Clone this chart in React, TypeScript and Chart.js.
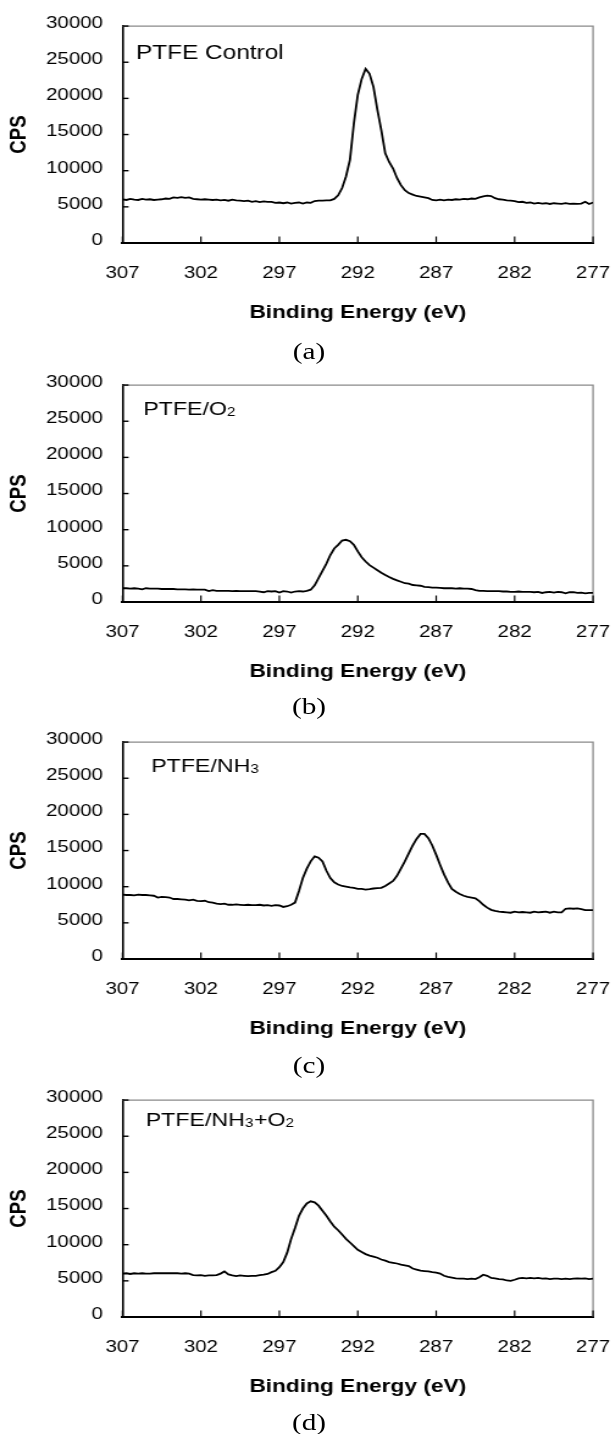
import React, { useEffect, useRef } from 'react';
import { Chart, registerables } from 'chart.js';

Chart.register(...registerables);

// ---------- DATA ----------
const energies = [
  307, 306.75, 306.5, 306.25, 306, 305.75, 305.5, 305.25,
  305, 304.75, 304.5, 304.25, 304, 303.75, 303.5, 303.25,
  303, 302.75, 302.5, 302.25, 302, 301.75, 301.5, 301.25,
  301, 300.75, 300.5, 300.25, 300, 299.75, 299.5, 299.25,
  299, 298.75, 298.5, 298.25, 298, 297.75, 297.5, 297.25,
  297, 296.75, 296.5, 296.25, 296, 295.75, 295.5, 295.25,
  295, 294.75, 294.5, 294.25, 294, 293.75, 293.5, 293.25,
  293, 292.75, 292.5, 292.25, 292, 291.75, 291.5, 291.25,
  291, 290.75, 290.5, 290.25, 290, 289.75, 289.5, 289.25,
  289, 288.75, 288.5, 288.25, 288, 287.75, 287.5, 287.25,
  287, 286.75, 286.5, 286.25, 286, 285.75, 285.5, 285.25,
  285, 284.75, 284.5, 284.25, 284, 283.75, 283.5, 283.25,
  283, 282.75, 282.5, 282.25, 282, 281.75, 281.5, 281.25,
  281, 280.75, 280.5, 280.25, 280, 279.75, 279.5, 279.25,
  279, 278.75, 278.5, 278.25, 278, 277.75, 277.5, 277.25,
  277,
];

const ptfeControl = [
  6050, 5950, 6100, 6000, 5950, 6100, 6000, 6050,
  5950, 6000, 6050, 6150, 6100, 6300, 6250, 6350,
  6250, 6300, 6100, 6050, 6000, 6050, 6000, 5950,
  6000, 5900, 5950, 5850, 6000, 5900, 5850, 5800,
  5850, 5700, 5800, 5650, 5750, 5700, 5700, 5550,
  5600, 5500, 5600, 5450, 5550, 5600, 5450, 5600,
  5550, 5800, 5850, 5850, 5900, 5900, 6100, 6600,
  7600, 9200, 11500, 16500, 20500, 22700, 24100, 23400,
  21600, 18400, 15600, 12400, 11200, 10300, 9000, 8000,
  7300, 6900, 6700, 6500, 6400, 6300, 6200, 5950,
  5900, 6000, 5900, 6000, 5950, 6050, 6000, 6100,
  6050, 6150, 6100, 6300, 6450, 6550, 6500, 6200,
  6050, 6000, 5900, 5850, 5800, 5650, 5700, 5550,
  5600, 5450, 5550, 5450, 5500, 5400, 5500, 5450,
  5400, 5500, 5400, 5450, 5400, 5450, 5700, 5400,
  5600,
];

const ptfeO2 = [
  1900, 1900, 1850, 1900, 1850, 1750, 1900, 1850,
  1850, 1850, 1800, 1800, 1800, 1800, 1750, 1750,
  1750, 1700, 1750, 1700, 1700, 1700, 1500, 1650,
  1550, 1550, 1550, 1550, 1500, 1550, 1500, 1500,
  1500, 1500, 1500, 1450, 1350, 1500, 1450, 1500,
  1300, 1500, 1450, 1300, 1450, 1500, 1450, 1550,
  1700, 2300, 3300, 4300, 5300, 6500, 7400, 7900,
  8500, 8600, 8400, 7900, 7000, 6200, 5600, 5100,
  4750, 4400, 4050, 3750, 3450, 3200, 3000, 2800,
  2600, 2550, 2350, 2300, 2250, 2100, 2050, 2000,
  2000, 1950, 1900, 1900, 1900, 1850, 1900, 1850,
  1850, 1800, 1650, 1550, 1550, 1500, 1500, 1500,
  1500, 1450, 1450, 1400, 1400, 1450, 1400, 1400,
  1400, 1350, 1400, 1250, 1350, 1400, 1300, 1400,
  1350, 1200, 1350, 1350, 1250, 1300, 1200, 1250,
  1250,
];

const ptfeNH3 = [
  8900, 8850, 8850, 8800, 8900, 8850, 8850, 8800,
  8750, 8500, 8600, 8550, 8500, 8300, 8300, 8250,
  8200, 8100, 8200, 8050, 8000, 8050, 7850, 7800,
  7650, 7600, 7650, 7500, 7500, 7550, 7500, 7450,
  7500, 7450, 7450, 7500, 7400, 7450, 7350, 7450,
  7400, 7200, 7300, 7500, 7800, 9400, 11200, 12500,
  13500, 14200, 14000, 13500, 12200, 11200, 10600, 10300,
  10100, 10000, 9900, 9850, 9700, 9700, 9600, 9650,
  9750, 9800, 9850, 10100, 10450, 10800, 11500, 12500,
  13500, 14600, 15700, 16600, 17300, 17300, 16700, 15700,
  14400, 13000, 11700, 10600, 9700, 9300, 9000, 8750,
  8600, 8500, 8400, 8000, 7500, 7100, 6800, 6650,
  6550, 6500, 6450, 6400, 6550, 6450, 6500, 6450,
  6400, 6550, 6450, 6500, 6550, 6400, 6550, 6450,
  6450, 6950, 7000, 6950, 7000, 6900, 6750, 6750,
  6750,
];

const ptfeNH3O2 = [
  6000, 6050, 5950, 6050, 6000, 6050, 6000, 6000,
  6050, 6050, 6050, 6050, 6050, 6050, 6050, 6000,
  6050, 6000, 5800, 5750, 5800, 5700, 5750, 5750,
  5800, 6000, 6300, 5900, 5750, 5650, 5750, 5700,
  5650, 5700, 5700, 5800, 5850, 5950, 6200, 6400,
  6900, 7600, 8900, 10800, 12300, 14000, 15000, 15700,
  16000, 15850, 15400, 14700, 14000, 13200, 12500, 12000,
  11400, 10800, 10300, 9800, 9300, 9000, 8700, 8500,
  8350, 8200, 7950, 7800, 7600, 7500, 7400, 7250,
  7150, 7050, 6700, 6550, 6400, 6350, 6300, 6200,
  6150, 6000, 5700, 5550, 5450, 5350, 5300, 5300,
  5250, 5300, 5250, 5500, 5850, 5700, 5400, 5350,
  5250, 5200, 5050, 5000, 5150, 5350, 5400, 5350,
  5400, 5350, 5400, 5300, 5350, 5250, 5300, 5300,
  5250, 5300, 5250, 5300, 5350, 5300, 5350, 5250,
  5300,
];

const xTickValues = [307, 302, 297, 292, 287, 282, 277];
const yTickValues = [0, 5000, 10000, 15000, 20000, 25000, 30000];
const xAxisTitle = 'Binding Energy (eV)';
const yAxisTitle = 'CPS';
const captions = ['(a)', '(b)', '(c)', '(d)'];

type Part = { t: string; sub?: boolean };
const panelLabels: Part[][] = [
  [{ t: 'PTFE Control' }],
  [{ t: 'PTFE/O' }, { t: '2', sub: true }],
  [{ t: 'PTFE/NH' }, { t: '3', sub: true }],
  [{ t: 'PTFE/NH' }, { t: '3', sub: true }, { t: '+O' }, { t: '2', sub: true }],
];
const panelSeries = [ptfeControl, ptfeO2, ptfeNH3, ptfeNH3O2];

// ---------- LAYOUT (chart coordinates, stretched horizontally by SX) ----------
const SX = 1.22;
const X_TICK_PAD = 19.9;
const TICK_FONT = 16.8;
// x-scale adds (last label half width + tick padding) at the right
const CANVAS_W = 487 + 14 + X_TICK_PAD;
const CANVAS_H = 340;
const PAD_TOP = 23;
const PLOT_H = 220;
const X_AXIS_H = 81.2;
const PAD_BOTTOM = CANVAS_H - PAD_TOP - PLOT_H - X_AXIS_H;
const Y_AXIS_W = 100.4;
const panelTops = [0, 359, 716, 1074];
const captionCenters = [353, 708, 1067, 1424];
const labelPos = [
  { dx: 11, dy: 33, size: 20 },
  { dx: 17, dy: 30, size: 19 },
  { dx: 23.5, dy: 29.5, size: 19 },
  { dx: 19, dy: 25.5, size: 19 },
];

const SANS = "'Liberation Sans', Arial, Helvetica, sans-serif";

const framePlugin = {
  id: 'frame',
  beforeDatasetsDraw(chart: any) {
    const { ctx, chartArea: a } = chart;
    ctx.save();
    ctx.strokeStyle = '#8a8a8a';
    ctx.lineWidth = 1.3;
    ctx.beginPath();
    ctx.moveTo(a.left, a.top);
    ctx.lineTo(a.right, a.top);
    ctx.lineTo(a.right, a.bottom);
    ctx.stroke();
    ctx.restore();
  },
};

const innerTicksPlugin = {
  id: 'innerTicks',
  afterDatasetsDraw(chart: any) {
    const { ctx, chartArea: a, scales } = chart;
    ctx.save();
    ctx.strokeStyle = '#000';
    ctx.lineWidth = 1.4;
    scales.y.ticks.forEach((t: any) => {
      const py = scales.y.getPixelForValue(t.value);
      ctx.beginPath();
      ctx.moveTo(a.left, py);
      ctx.lineTo(a.left + 5, py);
      ctx.stroke();
    });
    ctx.lineWidth = 1.2;
    scales.x.ticks.forEach((t: any) => {
      const px = scales.x.getPixelForValue(t.value);
      ctx.beginPath();
      ctx.moveTo(px, a.bottom);
      ctx.lineTo(px, a.bottom - 6.5);
      ctx.stroke();
    });
    ctx.restore();
  },
};

const labelPlugin = {
  id: 'panelLabel',
  afterDraw(chart: any, _args: any, opts: any) {
    const { ctx, chartArea: a } = chart;
    const parts: Part[] = opts.parts || [];
    const pos = opts.pos;
    ctx.save();
    ctx.fillStyle = '#000';
    ctx.textBaseline = 'alphabetic';
    ctx.textAlign = 'left';
    let x = a.left + pos.dx;
    const y = a.top + pos.dy;
    parts.forEach((p) => {
      const size = p.sub ? pos.size * 0.66 : pos.size;
      ctx.font = `${size}px ${SANS}`;
      ctx.fillText(p.t, x, y + (p.sub ? 1 : 0));
      x += ctx.measureText(p.t).width + (p.sub ? 0.5 : 0);
    });
    ctx.restore();
  },
};

function makeConfig(i: number): any {
  const values = panelSeries[i];
  return {
    type: 'line',
    data: {
      datasets: [
        {
          data: energies.map((e, k) => ({ x: e, y: values[k] })),
          borderColor: '#000',
          borderWidth: 1.8,
          pointRadius: 0,
          tension: 0,
          fill: false,
        },
      ],
    },
    options: {
      animation: false,
      responsive: false,
      devicePixelRatio: 1,
      events: [],
      layout: { padding: { top: PAD_TOP, bottom: PAD_BOTTOM, left: 0, right: 0 } },
      plugins: {
        legend: { display: false },
        tooltip: { enabled: false },
        title: { display: false },
        panelLabel: { parts: panelLabels[i], pos: labelPos[i] },
      },
      scales: {
        x: {
          type: 'linear',
          reverse: true,
          min: 277,
          max: 307,
          afterBuildTicks: (s: any) => {
            s.ticks = xTickValues.map((v) => ({ value: v }));
          },
          afterFit: (s: any) => {
            s.height = X_AXIS_H;
          },
          grid: { display: false, drawTicks: false },
          border: { display: true, color: '#000', width: 2 },
          ticks: {
            color: '#000',
            padding: X_TICK_PAD,
            maxRotation: 0,
            autoSkip: false,
            font: { family: SANS, size: TICK_FONT },
            callback: (v: any) => String(v),
          },
          title: {
            display: true,
            text: xAxisTitle,
            color: '#000',
            font: { family: SANS, size: 18.6, weight: 'bold' },
            padding: { top: 0, bottom: 0 },
          },
        },
        y: {
          type: 'linear',
          min: 0,
          max: 30000,
          afterBuildTicks: (s: any) => {
            s.ticks = yTickValues.map((v) => ({ value: v }));
          },
          afterFit: (s: any) => {
            s.width = Y_AXIS_W;
          },
          grid: { display: false, drawTicks: false },
          border: { display: true, color: '#000', width: 1.6 },
          ticks: {
            color: '#000',
            padding: 16,
            labelOffset: -2.7,
            autoSkip: false,
            font: { family: SANS, size: TICK_FONT },
            callback: (v: any) => String(v),
          },
          title: {
            display: true,
            text: yAxisTitle,
            color: '#000',
            font: { family: SANS, size: 18.6, weight: 'bold' },
            padding: { top: 4.6, bottom: 0 },
          },
        },
      },
    },
    plugins: [framePlugin, innerTicksPlugin, labelPlugin],
  };
}

export default function App() {
  const refs = useRef<(HTMLCanvasElement | null)[]>([]);

  useEffect(() => {
    const charts: Chart[] = [];
    refs.current.forEach((c, i) => {
      if (c) charts.push(new Chart(c, makeConfig(i)));
    });
    return () => charts.forEach((ch) => ch.destroy());
  }, []);

  return (
    <div
      style={{
        position: 'absolute',
        left: 0,
        top: 0,
        width: 614,
        height: 1434,
        overflow: 'hidden',
        background: '#fff',
      }}
    >
      <div
        style={{
          position: 'absolute',
          left: 0,
          top: 0,
          width: CANVAS_W,
          height: 1434,
          transform: `scaleX(${SX})`,
          transformOrigin: '0 0',
        }}
      >
        {panelTops.map((top, i) => (
          <canvas
            key={i}
            ref={(el) => {
              refs.current[i] = el;
            }}
            width={CANVAS_W}
            height={CANVAS_H}
            style={{ position: 'absolute', left: 0, top }}
          />
        ))}
        {captions.map((c, i) => (
          <div
            key={c}
            style={{
              position: 'absolute',
              left: 0,
              width: 506.6,
              top: captionCenters[i] - 14,
              textAlign: 'center',
              fontFamily: "'Liberation Serif', 'Times New Roman', serif",
              fontSize: 24,
              lineHeight: '24px',
              color: '#000',
            }}
          >
            {c}
          </div>
        ))}
      </div>
    </div>
  );
}
